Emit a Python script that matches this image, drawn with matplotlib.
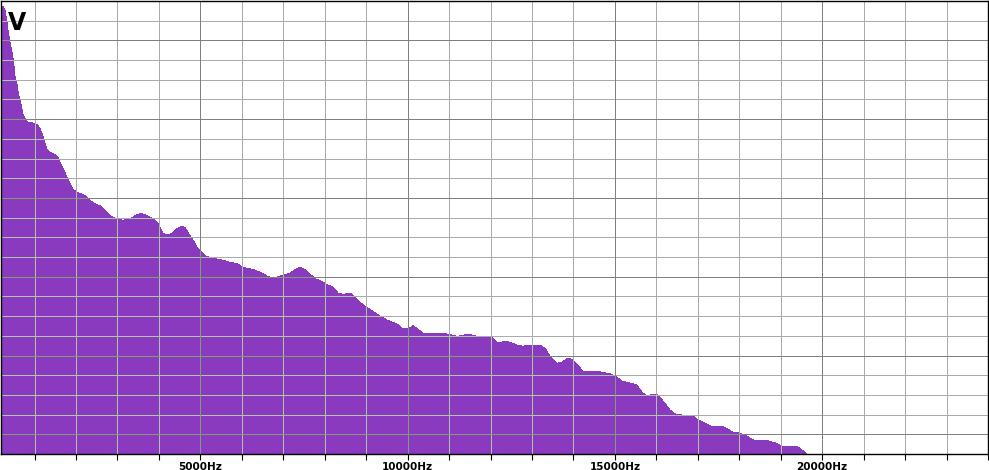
#!/usr/bin/env python3

import matplotlib
matplotlib.use('Agg')
import matplotlib.pyplot as plt
from matplotlib.ticker import MultipleLocator, FixedLocator, FuncFormatter

# spectrum envelope (Hz, dB)
freq_hz = [
    170, 217, 241, 289, 330, 369, 410, 451, 490, 531, 572, 610, 651, 692, 731,
    772, 813, 892, 1013, 1054, 1117, 1174, 1213, 1254, 1295, 1334, 1454, 1536,
    1575, 1616, 1688, 1785, 1857, 1929, 2026, 2170, 2267, 2339, 2460, 2580,
    2653, 2749, 2822, 2942, 3111, 3232, 3352, 3473, 3593, 3714, 3834, 3955,
    4027, 4100, 4220, 4317, 4437, 4558, 4630, 4703, 4799, 4920, 4992, 5113,
    5233, 5474, 5715, 5884, 6029, 6270, 6439, 6608, 6752, 6969, 7162, 7283,
    7404, 7524, 7645, 7765, 7886, 8055, 8199, 8320, 8441, 8609, 8730, 8851,
    9019, 9164, 9333, 9502, 9743, 9863, 10008, 10129, 10225, 10370, 10611,
    10780, 11021, 11190, 11431, 11576, 11745, 12034, 12155, 12227, 12348,
    12468, 12637, 12782, 12950, 13192, 13312, 13433, 13601, 13722, 13866,
    13987, 14108, 14228, 14470, 14638, 14879, 15048, 15169, 15362, 15531,
    15651, 15772, 15917, 16037, 16206, 16327, 16447, 16640, 16881, 17002,
    17170, 17339, 17580, 17701, 17846, 18015, 18208, 18376, 18497, 18690,
    18859, 19027, 19389, 19510, 19630, 19700, 24000,
]
level_db = [
    -0.6, -0.8, -0.9, -1.5, -3.0, -5.0, -6.4, -7.6, -9.1, -11.7, -12.6, -14.1,
    -15.2, -16.4, -17.5, -17.9, -18.4, -18.5, -18.7, -18.8, -19.3, -20.1,
    -20.8, -21.7, -22.5, -22.9, -23.3, -23.6, -24.0, -24.6, -25.5, -26.9,
    -27.8, -28.7, -29.2, -29.5, -29.9, -30.4, -30.9, -31.2, -31.6, -32.2,
    -32.7, -33.1, -33.4, -33.3, -33.0, -32.5, -32.4, -32.7, -33.1, -33.7,
    -34.5, -35.4, -35.7, -35.4, -34.7, -34.3, -34.5, -35.3, -36.2, -37.5,
    -38.0, -38.8, -39.1, -39.4, -39.8, -40.0, -40.6, -40.9, -41.3, -41.9,
    -42.3, -41.8, -41.5, -40.9, -40.6, -40.9, -41.6, -42.3, -42.6, -43.2,
    -43.6, -44.5, -44.7, -44.5, -45.1, -45.9, -46.7, -47.3, -48.0, -48.6,
    -49.2, -49.9, -49.9, -49.5, -49.9, -50.6, -50.6, -50.6, -50.8, -51.1,
    -50.8, -50.9, -51.2, -51.2, -52.0, -52.1, -51.8, -52.0, -52.4, -52.6,
    -52.4, -52.4, -52.9, -54.1, -55.2, -55.0, -54.4, -54.7, -55.5, -56.4,
    -56.4, -56.5, -56.8, -57.3, -57.9, -58.2, -58.5, -59.6, -60.2, -59.9,
    -60.0, -61.3, -62.3, -62.9, -63.1, -63.1, -63.8, -64.3, -64.8, -64.8,
    -65.1, -65.7, -65.8, -66.4, -67.0, -66.9, -67.0, -67.3, -67.8, -67.8,
    -68.4, -69.0, -80.0, -80.0,
]

x_major = [5000, 10000, 15000, 20000]
y_major = [-66, -54, -42, -30, -18, -6]
channel = 'V'

fill_col = '#8a3abe'
grid_light = '#aaaaaa'
grid_dark = '#7f7f7f'
grid_light_in = '#adc4a6'
grid_dark_in = '#7f9c74'

fig = plt.figure(figsize=(9.89, 4.70), dpi=100)
ax = fig.add_axes([1 / 989, 16 / 470, 987 / 989, 453 / 470])

poly = ax.fill_between(freq_hz, level_db, -100, color=fill_col, lw=0,
                       antialiased=False, zorder=1)

ax.set_xlim(190, 24000)
ax.set_ylim(-69, 0)

ax.xaxis.set_major_locator(FixedLocator(x_major))
ax.xaxis.set_minor_locator(MultipleLocator(1000))
ax.xaxis.set_major_formatter(FuncFormatter(lambda v, p: '%dHz' % v))
ax.yaxis.set_major_locator(FixedLocator(y_major))
ax.yaxis.set_minor_locator(MultipleLocator(3))
ax.yaxis.set_major_formatter(FuncFormatter(lambda v, p: ''))

ax.tick_params(axis='x', which='both', direction='out', length=4, width=0.8,
               color='black', pad=1.5)
ax.tick_params(axis='x', which='major', labelsize=7.5)
ax.tick_params(axis='y', which='both', length=0, labelleft=False)
for lab in ax.get_xticklabels():
    lab.set_fontweight('bold')

# grid: grey on white, greenish where it crosses the fill
minor_x = [v for v in range(1000, 24000, 1000) if v not in x_major]
minor_y = [v for v in range(-66, 0, 3) if v not in y_major]
clip = poly.get_paths()[0]
for xs, ys, col, col_in in [(minor_x, minor_y, grid_light, grid_light_in),
                            (x_major, y_major, grid_dark, grid_dark_in)]:
    for c, z, clipped in [(col, 2, False), (col_in, 3, True)]:
        vl = ax.vlines(xs, -69, 0, colors=c, lw=0.72, zorder=z,
                       antialiased=False)
        hl = ax.hlines(ys, 190, 24000, colors=c, lw=0.72, zorder=z,
                       antialiased=False)
        if clipped:
            vl.set_clip_path(clip, ax.transData)
            hl.set_clip_path(clip, ax.transData)

for s in ax.spines.values():
    s.set_color('black')
    s.set_linewidth(1.0)
    s.set_zorder(4)

fig.text(8 / 989, 1 - 30 / 470, channel, fontsize=17, fontweight='bold',
         color='black', va='baseline', ha='left')

fig.savefig('out.png', dpi=100)
